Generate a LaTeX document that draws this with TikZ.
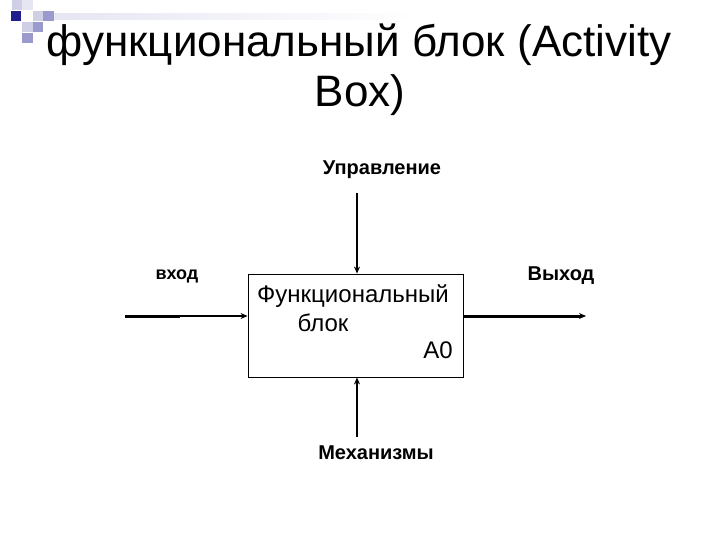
\documentclass[tikz,border=0pt]{standalone}
\usepackage{fontspec}
\setmainfont{Liberation Sans}
\usetikzlibrary{arrows.meta,shadings}
\definecolor{sqdark}{HTML}{1E1E8C}
\definecolor{sqmed}{HTML}{9A9ACC}
\definecolor{sqlight}{HTML}{CFCFE6}
\definecolor{sqpale}{HTML}{E6E6F3}
\tikzset{
  sq/.style={inner sep=0pt, minimum size=10.5pt, draw=none},
  lbl/.style={font=\fontsize{20}{22}\selectfont\bfseries, inner sep=0pt},
  lbls/.style={font=\fontsize{18}{20}\selectfont\bfseries, inner sep=0pt},
  boxtxt/.style={font=\fontsize{24}{27}\selectfont, inner sep=0pt},
  fbox/.style={draw=black, line width=0.9pt, minimum width=215pt, minimum height=103pt, inner sep=0pt},
  tip/.style={-{Stealth[length=7pt,width=6pt]}},
  arr/.style={line width=2.6pt, tip},
}
\begin{document}
\begin{tikzpicture}[x=1pt,y=-1pt]
\useasboundingbox (0,0) rectangle (720,540);
\fill[white] (0,0) rectangle (720,540);
% top gradient bar
\shade[left color=sqpale, right color=white] (54,14) rectangle (420,20);
% decoration squares
\node[sq, fill=sqlight] (s01) at (17,5) {};
\node[sq, fill=sqpale]  (s02) at (27.5,5) {};
\node[sq, fill=sqdark]  (s11) at (16,16) {};
\node[sq, fill=sqlight] (s13) at (38,16) {};
\node[sq, fill=sqmed]   (s14) at (48.5,16) {};
\node[sq, fill=sqlight] (s22) at (27.5,27) {};
\node[sq, fill=sqmed]   (s23) at (38,27) {};
\node[sq, fill=sqmed]   (s32) at (27.5,38) {};
% title
\node[font=\fontsize{44}{50}\selectfont, inner sep=0pt, anchor=base] (title1) at (359,57) {функциональный блок (Activity};
\node[font=\fontsize{44}{50}\selectfont, inner sep=0pt, anchor=base] (title2) at (360,107) {Box)};
% box
\node[fbox] (box) at (355.5,325.5) {};
\node[boxtxt] (t1) at (353,296) {Функциональный};
\node[boxtxt] (t2) at (323,323) {блок};
\node[boxtxt, anchor=east] (t3) at (453,350) {А0};
% labels
\node[lbl] (ctl) at (382,170) {Управление};
\node[lbls] (inp) at (177,276) {вход};
\node[lbl] (out) at (561,276) {Выход};
\node[lbl] (mech) at (376,453) {Механизмы};
% connector ends
\coordinate (inS) at (125,316);
\coordinate (inM) at (180,316);
\coordinate (outE) at (586,316);
\coordinate (ctlS) at (357,193);
\coordinate (mechS) at (357,437);
% arrows
\draw[line width=3pt] (inS) -- (inM);
\draw[line width=1.8pt, tip] (inM) -- (box.west |- inM);
\draw[line width=3pt, tip] (box.east |- outE) -- (outE);
\draw[arr] (ctlS) -- (ctlS |- box.north);
\draw[arr] (mechS) -- (mechS |- box.south);
\end{tikzpicture}
\end{document}
